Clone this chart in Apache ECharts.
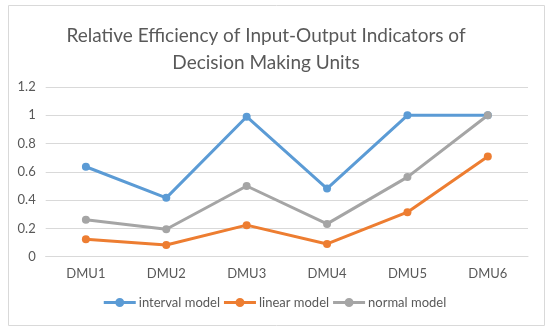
<!DOCTYPE html>
<html><head><meta charset="utf-8">
<script src="https://cdn.jsdelivr.net/npm/echarts@6/dist/echarts.min.js"></script>
<style>html,body{margin:0;padding:0;background:#fff}#c{width:550px;height:332px}</style>
</head><body><div id="c"></div>
<script>
const categories = ['DMU1','DMU2','DMU3','DMU4','DMU5','DMU6'];
const intervalModel = [0.636, 0.416, 0.99, 0.482, 1.0, 1.0];
const linearModel = [0.123, 0.083, 0.223, 0.09, 0.315, 0.709];
const normalModel = [0.262, 0.194, 0.50, 0.232, 0.563, 1.0];
const yTicks = [0, 0.2, 0.4, 0.6, 0.8, 1, 1.2];

const chart = echarts.init(document.getElementById('c'));
const font = 'Lato';
const legendIcon = 'path://M0,3 L32,3 L32,6 L0,6 Z M11.5,4.5 A4.5,4.5 0 1,1 20.5,4.5 A4.5,4.5 0 1,1 11.5,4.5 Z';
function ser(name, data, color){
  return {name, type:'line', data, symbol:'circle', symbolSize:8,
    lineStyle:{width:3, color}, itemStyle:{color}};
}
chart.setOption({
  animation:false,
  color:['#5B9BD5','#ED7D31','#A5A5A5'],
  graphic:[{type:'rect', shape:{x:8.5,y:5.5,width:536,height:320}, style:{fill:'none', stroke:'#d9d9d9', lineWidth:1}, silent:true}],
  title:{text:'Relative Efficiency of Input-Output Indicators of\nDecision Making Units', left:261, top:17, textAlign:'center',
    textStyle:{fontFamily:font, fontSize:19, fontWeight:'normal', color:'#595959', lineHeight:27}},
  grid:{left:45.7, right:22, top:87, bottom:75.3},
  xAxis:{type:'category', data:categories, boundaryGap:true,
    axisLine:{lineStyle:{color:'#d9d9d9'}}, axisTick:{show:false},
    axisLabel:{fontFamily:font, fontSize:13, color:'#595959', margin:11}},
  yAxis:{type:'value', min:0, max:1.2, interval:0.2,
    axisLine:{show:false}, axisTick:{show:false},
    splitLine:{lineStyle:{color:'#d9d9d9'}},
    axisLabel:{fontFamily:font, fontSize:13, color:'#595959', margin:10,
      formatter:v=>{const t=yTicks.find(x=>Math.abs(x-v)<1e-6); return String(t!==undefined?t:v);}}},
  legend:{bottom:18, left:'center', itemWidth:32, itemHeight:9, itemGap:4, icon:legendIcon,
    textStyle:{fontFamily:font, fontSize:13, color:'#595959', padding:[0,0,0,-2]},
    data:['interval model','linear model','normal model']},
  series:[ser('interval model', intervalModel, '#5B9BD5'), ser('linear model', linearModel, '#ED7D31'), ser('normal model', normalModel, '#A5A5A5')]
});
</script></body></html>
